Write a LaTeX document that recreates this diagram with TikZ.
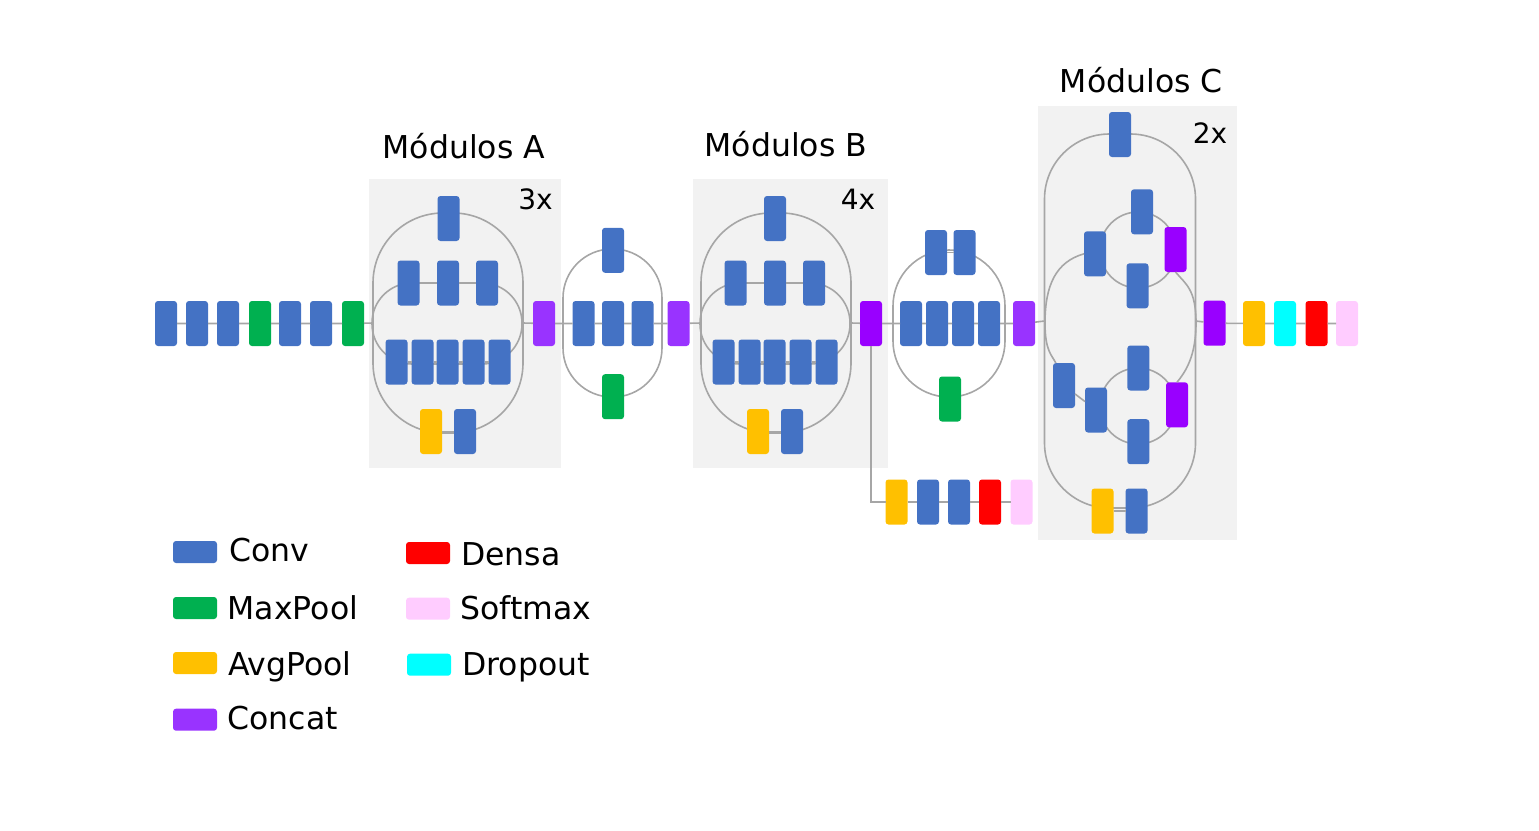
\documentclass[tikz,border=0pt]{standalone}
\usepackage{fontspec}
\setmainfont{DejaVu Sans}
\usepackage{tikz}

\definecolor{convc}{HTML}{4472C4}
\definecolor{maxc}{HTML}{00B050}
\definecolor{avgc}{HTML}{FFC000}
\definecolor{catc}{HTML}{9933FF}
\definecolor{catd}{HTML}{9900FF}
\definecolor{densc}{HTML}{FF0000}
\definecolor{softc}{HTML}{FFCCFF}
\definecolor{dropc}{HTML}{00FFFF}
\definecolor{linec}{HTML}{A6A6A6}
\definecolor{boxc}{HTML}{F2F2F2}

\tikzset{
  blk/.style={rounded corners=3pt, minimum width=22pt, minimum height=45pt, inner sep=0pt, outer sep=0pt},
  conv/.style={blk, fill=convc},
  maxp/.style={blk, fill=maxc},
  avgp/.style={blk, fill=avgc},
  cat/.style={blk, fill=catc},
  catx/.style={blk, fill=catd},
  dens/.style={blk, fill=densc},
  soft/.style={blk, fill=softc},
  drop/.style={blk, fill=dropc},
  swatch/.style={rounded corners=3pt, minimum width=44pt, minimum height=22pt, inner sep=0pt},
  branch/.style={draw=linec, line width=1.6pt, inner sep=0pt, outer sep=0pt},
  link/.style={draw=linec, line width=1.6pt},
  lab/.style={font=\fontsize{31.5}{37}\selectfont, inner sep=0pt},
  rep/.style={font=\fontsize{28}{33}\selectfont, inner sep=0pt}
}

\begin{document}
\begin{tikzpicture}[x=1pt,y=-1pt]
\useasboundingbox (0,0) rectangle (1539,830);

% module backgrounds
\fill[boxc] (369,179) rectangle (561,468);
\fill[boxc] (693,179) rectangle (888,468);
\fill[boxc] (1038,106) rectangle (1237,540);

\node[lab, anchor=base] (titA) at (463.8,158.3) {Módulos A};
\node[lab, anchor=base] (titB) at (785.8,156) {Módulos B};
\node[lab, anchor=base] (titC) at (1141.3,92.3) {Módulos C};
\node[rep, anchor=base] (repA) at (535.5,209.3) {3x};
\node[rep, anchor=base] (repB) at (858,209.3) {4x};
\node[rep, anchor=base] (repC) at (1210,143.3) {2x};

% branch outlines
\node[branch, rounded corners=70pt, minimum width=150pt, minimum height=220pt] (outA) at (448,323) {};
\node[branch, rounded corners=40pt, minimum width=150pt, minimum height=81pt] (inA) at (447,323.5) {};
\node[branch, rounded corners=49pt, minimum width=99pt, minimum height=148pt] (redA) at (612.5,323) {};
\node[branch, rounded corners=70pt, minimum width=150pt, minimum height=220pt] (outB) at (776,323) {};
\node[branch, rounded corners=40pt, minimum width=150pt, minimum height=81pt] (inB) at (775,323.5) {};
\node[branch, rounded corners=56pt, minimum width=112pt, minimum height=147pt] (redB) at (949,323.5) {};
\node[branch, rounded corners=65pt, minimum width=151pt, minimum height=374pt] (outC) at (1120,321) {};
\node[branch, circle, minimum size=76pt] (upC) at (1138,250) {};
\node[branch, circle, minimum size=76pt] (loC) at (1138,406) {};
\coordinate (mcl) at (1045,323);
\coordinate (mcr) at (1196,323);

% stem
\node[conv] (s1) at (166,323.5) {};
\node[conv] (s2) at (197,323.5) {};
\node[conv] (s3) at (228,323.5) {};
\node[maxp] (s4) at (260,323.5) {};
\node[conv] (s5) at (290,323.5) {};
\node[conv] (s6) at (321,323.5) {};
\node[maxp] (s7) at (353,323.5) {};

% modules A
\node[conv] (at) at (448.5,218.5) {};
\node[conv] (a31) at (408.5,283) {};
\node[conv] (a32) at (448,283) {};
\node[conv] (a33) at (487,283) {};
\node[conv] (a51) at (396.5,362) {};
\node[conv] (a52) at (422.5,362) {};
\node[conv] (a53) at (447.5,362) {};
\node[conv] (a54) at (473.5,362) {};
\node[conv] (a55) at (499.5,362) {};
\node[avgp] (aap) at (431,431.5) {};
\node[conv] (abc) at (465,431.5) {};
\node[cat] (catA) at (544,323.5) {};

% reduction A
\node[conv] (rat) at (613,250.3) {};
\node[conv] (ra1) at (583.5,323.5) {};
\node[conv] (ra2) at (613,323.5) {};
\node[conv] (ra3) at (642.5,323.5) {};
\node[maxp] (ram) at (613,396.7) {};
\node[cat] (catRA) at (678.5,323.5) {};

% modules B
\node[conv] (bt) at (775,218.5) {};
\node[conv] (b31) at (735.5,283) {};
\node[conv] (b32) at (775,283) {};
\node[conv] (b33) at (814,283) {};
\node[conv] (b51) at (723.5,362) {};
\node[conv] (b52) at (749.5,362) {};
\node[conv] (b53) at (774.5,362) {};
\node[conv] (b54) at (800.5,362) {};
\node[conv] (b55) at (826.5,362) {};
\node[avgp] (bap) at (758,431.5) {};
\node[conv] (bbc) at (792,431.5) {};
\node[catx] (catB) at (871,323.5) {};

% auxiliary head
\node[avgp] (xap) at (896.5,502) {};
\node[conv] (xc1) at (928,502) {};
\node[conv] (xc2) at (959,502) {};
\node[dens] (xd) at (990,502) {};
\node[soft] (xs) at (1021.5,502) {};

% reduction B
\node[conv] (rbt1) at (936,252.5) {};
\node[conv] (rbt2) at (964.5,252.5) {};
\node[conv] (rb1) at (911,323.5) {};
\node[conv] (rb2) at (937,323.5) {};
\node[conv] (rb3) at (963,323.5) {};
\node[conv] (rb4) at (989,323.5) {};
\node[maxp] (rbm) at (950,399) {};
\node[cat] (catRB) at (1024,323.5) {};

% modules C
\node[conv] (ct) at (1120,134.5) {};
\node[conv] (cu1) at (1142,211.8) {};
\node[conv] (cu2) at (1095,253.8) {};
\node[conv] (cu3) at (1137.5,285.8) {};
\node[catx] (cuc) at (1175.5,249.5) {};
\node[conv] (cl0) at (1064,385.5) {};
\node[conv] (cl1) at (1096,410) {};
\node[conv] (cl2) at (1138.3,368) {};
\node[conv] (cl3) at (1138.3,441.7) {};
\node[catx] (clc) at (1177,404.8) {};
\node[avgp] (cap) at (1102.5,511) {};
\node[conv] (cbc) at (1136.5,511) {};
\node[catx] (catC) at (1214.5,323.2) {};

% head
\node[avgp] (hap) at (1254,323.5) {};
\node[drop] (hdr) at (1285,323.5) {};
\node[dens] (hde) at (1316.5,323.5) {};
\node[soft] (hso) at (1347,323.5) {};

% connections
\draw[link] (s1) -- (s2) -- (s3) -- (s4) -- (s5) -- (s6) -- (s7) -- (outA.west);
\draw[link] (outA.east) -- (catA) -- (ra1) -- (ra2) -- (ra3) -- (catRA) -- (outB.west);
\draw[link] (outB.east) -- (catB) -- (rb1) -- (rb2) -- (rb3) -- (rb4) -- (catRB) -- (outC.west);
\draw[link] (outC.east) -- (catC) -- (hap) -- (hdr) -- (hde) -- (hso);
\draw[link] (a31) -- (a32) -- (a33);
\draw[link] (a51) -- (a52) -- (a53) -- (a54) -- (a55);
\draw[link] (aap) -- (abc);
\draw[link] (b31) -- (b32) -- (b33);
\draw[link] (b51) -- (b52) -- (b53) -- (b54) -- (b55);
\draw[link] (bap) -- (bbc);
\draw[link] (rbt1) -- (rbt2);
\draw[link] (catB) |- (xap);
\draw[link] (xap) -- (xc1) -- (xc2) -- (xd) -- (xs);
\draw[link] (cu2.west) .. controls +(-28,8) and +(0,-38) .. (mcl) .. controls +(0,28) and +(-4,-8) .. (cl0.110);
\draw[link] (cuc.south) .. controls +(10,12) and +(0,-34) .. (mcr) .. controls +(0,34) and +(8,-10) .. (clc.north);
\draw[link] (cl0) -- (cl1);
\draw[link] (cap) -- (cbc);

% legend
\node[swatch, fill=convc] (lconv) at (195,552) {};
\node[swatch, fill=maxc] (lmax) at (195,608) {};
\node[swatch, fill=avgc] (lavg) at (195,663) {};
\node[swatch, fill=catc] (lcat) at (195,719.7) {};
\node[swatch, fill=densc] (ldens) at (428,553) {};
\node[swatch, fill=softc] (lsoft) at (428,608.7) {};
\node[swatch, fill=dropc] (ldrop) at (429,664.7) {};
\node[lab, anchor=base west] (tconv) at (229.5,561.7) {Conv};
\node[lab, anchor=base west] (tmax) at (227.5,619) {MaxPool};
\node[lab, anchor=base west] (tavg) at (228,675) {AvgPool};
\node[lab, anchor=base west] (tcat) at (227.5,729.3) {Concat};
\node[lab, anchor=base west] (tdens) at (461,565) {Densa};
\node[lab, anchor=base west] (tsoft) at (460,619) {Softmax};
\node[lab, anchor=base west] (tdrop) at (462,675) {Dropout};
\end{tikzpicture}
\end{document}
